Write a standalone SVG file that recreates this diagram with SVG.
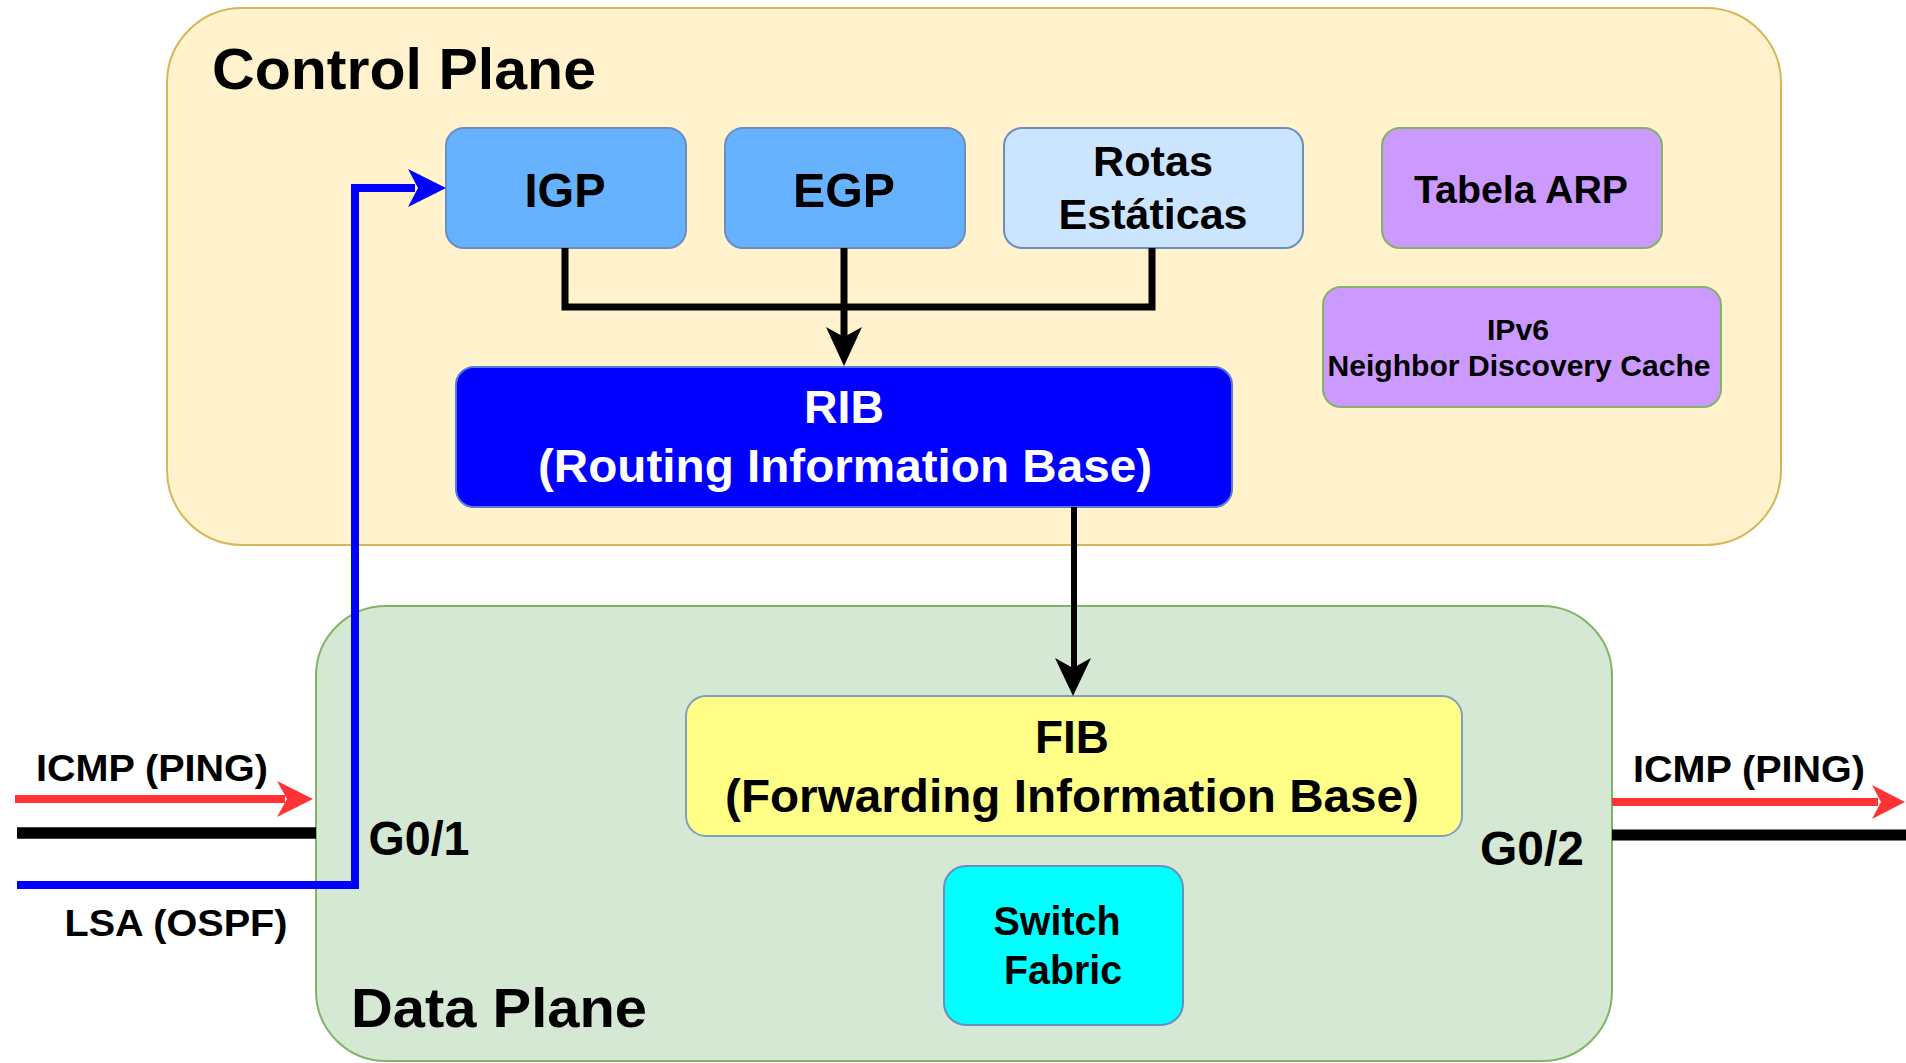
<svg xmlns="http://www.w3.org/2000/svg" width="1906" height="1063" viewBox="0 0 1906 1063">
<style>
text{font-family:"Liberation Sans",Arial,Helvetica,sans-serif;font-weight:bold;fill:#000;text-anchor:middle}
.plane{stroke-width:2}
.node{stroke-width:2}
.blue{fill:#66b2ff;stroke:#6c8ebf}
.light{fill:#cce5ff;stroke:#6c8ebf}
.purple{fill:#cc99ff;stroke:#82b366}
.conn{fill:none;stroke-linejoin:miter;stroke-linecap:butt}
</style>
<rect width="1906" height="1063" fill="#ffffff"/>
<g id="control-plane">
<rect class="plane" x="167" y="8" width="1614" height="537" rx="75" ry="75" fill="#fff2cc" stroke="#d6b656"/>
<text x="404" y="89" font-size="57" textLength="384" lengthAdjust="spacingAndGlyphs">Control Plane</text>
</g>
<g id="data-plane">
<rect class="plane" x="316" y="606" width="1296" height="455" rx="70" ry="70" fill="#d5e8d4" stroke="#82b366"/>
<text x="499" y="1027" font-size="55" textLength="296" lengthAdjust="spacingAndGlyphs">Data Plane</text>
</g>
<g id="igp">
<rect class="node blue" x="446" y="128" width="240" height="120" rx="18"/>
<text x="565" y="207" font-size="49" textLength="81" lengthAdjust="spacingAndGlyphs">IGP</text>
</g>
<g id="egp">
<rect class="node blue" x="725" y="128" width="240" height="120" rx="18"/>
<text x="844" y="207" font-size="49" textLength="102" lengthAdjust="spacingAndGlyphs">EGP</text>
</g>
<g id="rotas">
<rect class="node light" x="1004" y="128" width="299" height="120" rx="18"/>
<text x="1153" y="176" font-size="43" textLength="120" lengthAdjust="spacingAndGlyphs">Rotas</text>
<text x="1153" y="229" font-size="43" textLength="189" lengthAdjust="spacingAndGlyphs">Estáticas</text>
</g>
<g id="tabela-arp">
<rect class="node purple" x="1382" y="128" width="280" height="120" rx="18"/>
<text x="1521" y="203" font-size="38" textLength="214" lengthAdjust="spacingAndGlyphs">Tabela ARP</text>
</g>
<g id="ipv6-nd">
<rect class="node purple" x="1323" y="287" width="398" height="120" rx="18"/>
<text x="1518" y="340" font-size="30" textLength="62" lengthAdjust="spacingAndGlyphs">IPv6</text>
<text x="1519" y="376" font-size="30" textLength="383" lengthAdjust="spacingAndGlyphs">Neighbor Discovery Cache</text>
</g>
<g id="rib">
<rect class="node" x="456" y="367" width="776" height="140" rx="18" fill="#0000ff" stroke="#5a78d8"/>
<text x="844" y="423" font-size="46" textLength="80" lengthAdjust="spacingAndGlyphs" style="fill:#ffffff">RIB</text>
<text x="845" y="482" font-size="46" textLength="614" lengthAdjust="spacingAndGlyphs" style="fill:#ffffff">(Routing Information Base)</text>
</g>
<g id="fib">
<rect class="node" x="686" y="696" width="776" height="140" rx="20" fill="#ffff88" stroke="#7f9fbf"/>
<text x="1072" y="753" font-size="46" textLength="74" lengthAdjust="spacingAndGlyphs">FIB</text>
<text x="1072" y="812" font-size="46" textLength="694" lengthAdjust="spacingAndGlyphs">(Forwarding Information Base)</text>
</g>
<g id="switch-fabric">
<rect class="node" x="944" y="866" width="239" height="159" rx="22" fill="#00ffff" stroke="#6c8ebf"/>
<text x="1057" y="935" font-size="40" textLength="127" lengthAdjust="spacingAndGlyphs">Switch</text>
<text x="1063" y="984" font-size="40" textLength="118" lengthAdjust="spacingAndGlyphs">Fabric</text>
</g>
<g id="labels">
<text x="152" y="781" font-size="37" textLength="232" lengthAdjust="spacingAndGlyphs">ICMP (PING)</text>
<text x="1749" y="782" font-size="37" textLength="232" lengthAdjust="spacingAndGlyphs">ICMP (PING)</text>
<text x="419" y="855" font-size="48" textLength="101" lengthAdjust="spacingAndGlyphs">G0/1</text>
<text x="1532" y="865" font-size="48" textLength="104" lengthAdjust="spacingAndGlyphs">G0/2</text>
<text x="176" y="936" font-size="37" textLength="223" lengthAdjust="spacingAndGlyphs">LSA (OSPF)</text>
</g>
<g id="connectors">
<path class="conn" d="M565,248 V307 H1152 V248" stroke="#000" stroke-width="7"/>
<path class="conn" d="M844,248 V340" stroke="#000" stroke-width="7"/>
<polygon points="844,366 826,327 844,337 862,327" fill="#000"/>
<path class="conn" d="M1074,507 V670" stroke="#000" stroke-width="6"/>
<polygon points="1073,696 1055,658 1073,668 1091,658" fill="#000"/>
<path class="conn" d="M17,885 H355 V188 H415" stroke="#0000ff" stroke-width="8"/>
<polygon points="446,188 408,169 418,188 408,207" fill="#0000ff"/>
<path class="conn" d="M15,799 H285" stroke="#ff3333" stroke-width="8"/>
<polygon points="313,799 277,781 287,799 277,817" fill="#ff3333"/>
<path class="conn" d="M17,833 H316" stroke="#000" stroke-width="11.5"/>
<path class="conn" d="M1612,802 H1878" stroke="#ff3333" stroke-width="8"/>
<polygon points="1905,802 1872,785 1881,802 1872,819" fill="#ff3333"/>
<path class="conn" d="M1612,835 H1906" stroke="#000" stroke-width="11"/>
</g>
</svg>
